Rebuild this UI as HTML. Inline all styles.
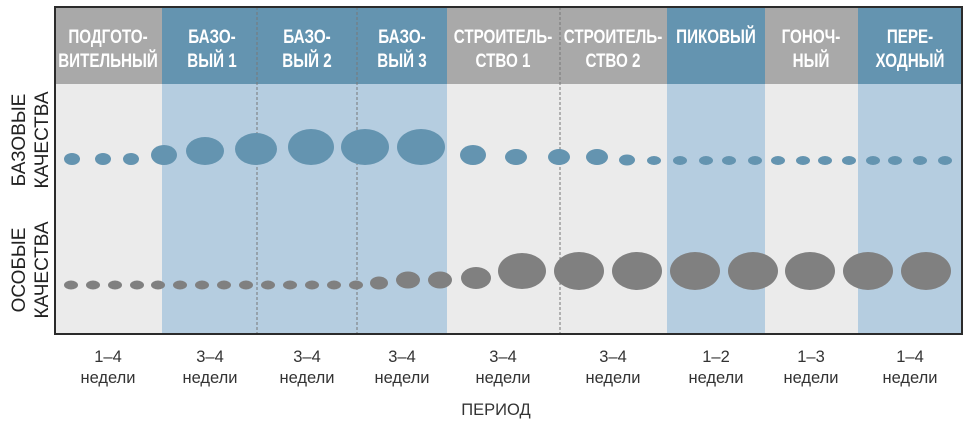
<!DOCTYPE html>
<html><head><meta charset="utf-8"><style>
html,body{margin:0;padding:0;background:#fff;}
svg{display:block;}
.h{font-family:"Liberation Sans",sans-serif;font-weight:bold;font-size:19px;fill:#fff;text-anchor:middle;}
.b{font-family:"Liberation Sans",sans-serif;font-size:16.5px;fill:#333;text-anchor:middle;}
.v{font-family:"Liberation Sans",sans-serif;font-size:19px;fill:#222;text-anchor:middle;}
</style></head><body>
<svg width="967" height="424" viewBox="0 0 967 424">
<rect x="55" y="7" width="107" height="327" fill="#ebebeb"/>
<rect x="162" y="7" width="285" height="327" fill="#b5cde0"/>
<rect x="447" y="7" width="220" height="327" fill="#ebebeb"/>
<rect x="667" y="7" width="98" height="327" fill="#b5cde0"/>
<rect x="765" y="7" width="93" height="327" fill="#ebebeb"/>
<rect x="858" y="7" width="104" height="327" fill="#b5cde0"/>
<rect x="55" y="7" width="107" height="77" fill="#a9a9a9"/>
<rect x="162" y="7" width="285" height="77" fill="#6494b0"/>
<rect x="447" y="7" width="220" height="77" fill="#a9a9a9"/>
<rect x="667" y="7" width="98" height="77" fill="#6494b0"/>
<rect x="765" y="7" width="93" height="77" fill="#a9a9a9"/>
<rect x="858" y="7" width="104" height="77" fill="#6494b0"/>
<g stroke="#777" stroke-width="1" stroke-dasharray="3,2">
<line x1="257" y1="7" x2="257" y2="334"/><line x1="357" y1="7" x2="357" y2="334"/><line x1="560" y1="7" x2="560" y2="334"/>
</g>
<g class="h">
<text transform="translate(108,43) scale(0.8,1)">ПОДГОТО-</text><text transform="translate(108,67) scale(0.8,1)">ВИТЕЛЬНЫЙ</text>
<text transform="translate(212,43) scale(0.8,1)">БАЗО-</text><text transform="translate(212,67) scale(0.8,1)">ВЫЙ 1</text>
<text transform="translate(307,43) scale(0.8,1)">БАЗО-</text><text transform="translate(307,67) scale(0.8,1)">ВЫЙ 2</text>
<text transform="translate(402,43) scale(0.8,1)">БАЗО-</text><text transform="translate(402,67) scale(0.8,1)">ВЫЙ 3</text>
<text transform="translate(503,43) scale(0.8,1)">СТРОИТЕЛЬ-</text><text transform="translate(503,67) scale(0.8,1)">СТВО 1</text>
<text transform="translate(613,43) scale(0.8,1)">СТРОИТЕЛЬ-</text><text transform="translate(613,67) scale(0.8,1)">СТВО 2</text>
<text transform="translate(716,43) scale(0.8,1)">ПИКОВЫЙ</text>
<text transform="translate(811,43) scale(0.8,1)">ГОНОЧ-</text><text transform="translate(811,67) scale(0.8,1)">НЫЙ</text>
<text transform="translate(910,43) scale(0.8,1)">ПЕРЕ-</text><text transform="translate(910,67) scale(0.8,1)">ХОДНЫЙ</text>
</g>
<g fill="#6494b0">
<ellipse cx="72" cy="159" rx="8" ry="6"/><ellipse cx="103" cy="159" rx="8" ry="6"/><ellipse cx="131" cy="159" rx="8" ry="6"/>
<ellipse cx="164" cy="155" rx="13" ry="10"/><ellipse cx="205" cy="151" rx="19" ry="14"/><ellipse cx="256" cy="149" rx="21" ry="16"/>
<ellipse cx="311" cy="147" rx="23" ry="18"/><ellipse cx="365" cy="147" rx="24" ry="18"/><ellipse cx="421" cy="147" rx="24" ry="18"/>
<ellipse cx="473" cy="155" rx="13" ry="10"/><ellipse cx="516" cy="157" rx="11" ry="8"/><ellipse cx="559" cy="157" rx="11" ry="8"/>
<ellipse cx="597" cy="157" rx="11" ry="8"/><ellipse cx="627" cy="160" rx="8" ry="5.5"/><ellipse cx="654" cy="160.5" rx="7" ry="4.5"/>
<ellipse cx="680" cy="160.5" rx="7" ry="4.5"/><ellipse cx="706" cy="160.5" rx="7" ry="4.5"/><ellipse cx="729" cy="160.5" rx="7" ry="4.5"/>
<ellipse cx="755" cy="160.5" rx="7" ry="4.5"/><ellipse cx="778" cy="160.5" rx="7" ry="4.5"/><ellipse cx="803" cy="160.5" rx="7" ry="4.5"/>
<ellipse cx="825" cy="160.5" rx="7" ry="4.5"/><ellipse cx="849" cy="160.5" rx="7" ry="4.5"/><ellipse cx="873" cy="160.5" rx="7" ry="4.5"/>
<ellipse cx="895" cy="160.5" rx="7" ry="4.5"/><ellipse cx="920" cy="160.5" rx="7" ry="4.5"/><ellipse cx="945" cy="160.5" rx="7" ry="4.5"/>
</g>
<g fill="#808080">
<ellipse cx="71" cy="285" rx="7" ry="4.5"/><ellipse cx="93" cy="285" rx="7" ry="4.5"/><ellipse cx="115" cy="285" rx="7" ry="4.5"/>
<ellipse cx="137" cy="285" rx="7" ry="4.5"/><ellipse cx="158" cy="285" rx="7" ry="4.5"/><ellipse cx="180" cy="285" rx="7" ry="4.5"/>
<ellipse cx="202" cy="285" rx="7" ry="4.5"/><ellipse cx="224" cy="285" rx="7" ry="4.5"/><ellipse cx="246" cy="285" rx="7" ry="4.5"/>
<ellipse cx="268" cy="285" rx="7" ry="4.5"/><ellipse cx="290" cy="285" rx="7" ry="4.5"/><ellipse cx="312" cy="285" rx="7" ry="4.5"/>
<ellipse cx="334" cy="285" rx="7" ry="4.5"/><ellipse cx="356" cy="285" rx="7" ry="4.5"/>
<ellipse cx="379" cy="283" rx="9" ry="6.5"/><ellipse cx="408" cy="280" rx="12" ry="8.5"/><ellipse cx="440" cy="280" rx="12" ry="8.5"/>
<ellipse cx="476" cy="278" rx="15" ry="11"/><ellipse cx="522" cy="271" rx="24" ry="18"/><ellipse cx="579" cy="271" rx="25" ry="19"/>
<ellipse cx="637" cy="271" rx="25" ry="19"/><ellipse cx="695" cy="271" rx="25" ry="19"/><ellipse cx="753" cy="271" rx="25" ry="19"/>
<ellipse cx="810" cy="271" rx="25" ry="19"/><ellipse cx="868" cy="271" rx="25" ry="19"/><ellipse cx="926" cy="271" rx="25" ry="19"/>
</g>
<rect x="55" y="7" width="907" height="327" fill="none" stroke="#2b2b2b" stroke-width="2"/>
<g class="v">
<text transform="translate(25,140) rotate(-90)">БАЗОВЫЕ</text>
<text transform="translate(48,140) rotate(-90)">КАЧЕСТВА</text>
<text transform="translate(25,270) rotate(-90)">ОСОБЫЕ</text>
<text transform="translate(48,270) rotate(-90)">КАЧЕСТВА</text>
</g>
<g class="b">
<text x="108" y="362">1–4</text><text x="108" y="383">недели</text>
<text x="210" y="362">3–4</text><text x="210" y="383">недели</text>
<text x="307" y="362">3–4</text><text x="307" y="383">недели</text>
<text x="402" y="362">3–4</text><text x="402" y="383">недели</text>
<text x="503" y="362">3–4</text><text x="503" y="383">недели</text>
<text x="613" y="362">3–4</text><text x="613" y="383">недели</text>
<text x="716" y="362">1–2</text><text x="716" y="383">недели</text>
<text x="811" y="362">1–3</text><text x="811" y="383">недели</text>
<text x="910" y="362">1–4</text><text x="910" y="383">недели</text>
<text x="496" y="415">ПЕРИОД</text>
</g>
</svg>
</body></html>
